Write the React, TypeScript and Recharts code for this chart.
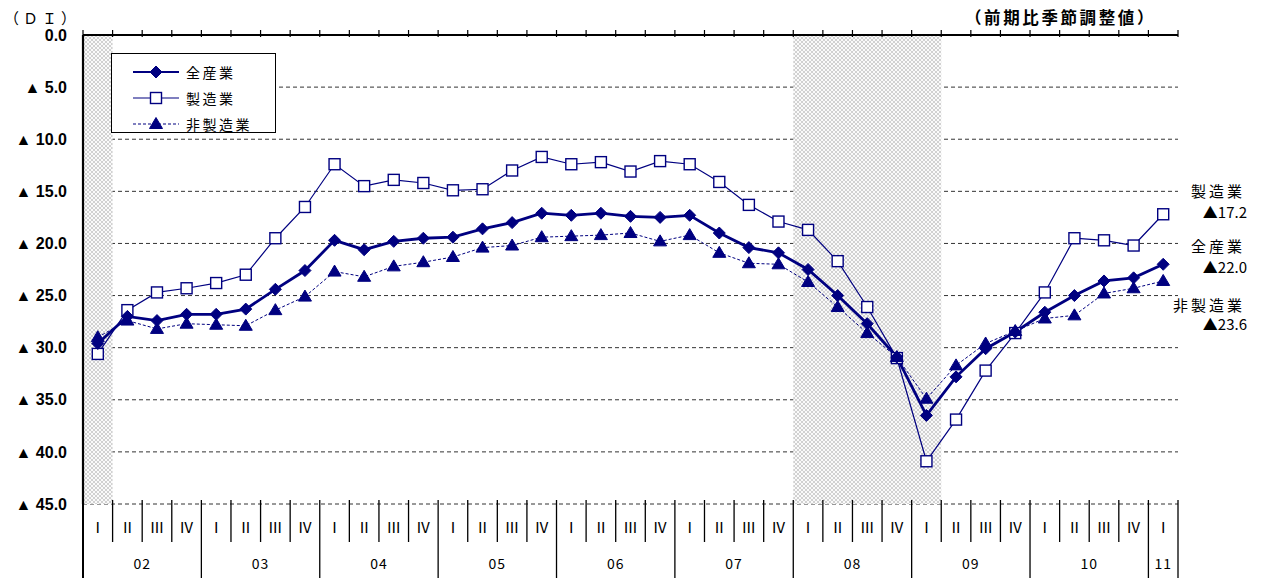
import { CartesianGrid, Legend, Line, LineChart, ReferenceArea, XAxis, YAxis } from "recharts";

// 年・四半期
const YEARS = ["02", "03", "04", "05", "06", "07", "08", "09", "10", "11"];
const QUARTERS = ["Ⅰ", "Ⅱ", "Ⅲ", "Ⅳ"];
const LAST_YEAR_QUARTERS = 1;

// DI（▲ = マイナス、値は絶対値）
const ALL = [29.6, 27.0, 27.4, 26.8, 26.8, 26.3, 24.4, 22.6, 19.7, 20.6, 19.8, 19.5, 19.4, 18.6, 18.0, 17.1, 17.3, 17.1, 17.4, 17.5, 17.3, 19.0, 20.4, 20.9, 22.5, 25.0, 27.7, 30.9, 36.5, 32.8, 30.1, 28.5, 26.6, 25.0, 23.6, 23.3, 22.0];
const MFG = [30.6, 26.4, 24.7, 24.3, 23.8, 23.0, 19.5, 16.5, 12.4, 14.5, 13.9, 14.2, 14.9, 14.8, 13.0, 11.7, 12.4, 12.2, 13.1, 12.1, 12.4, 14.1, 16.3, 17.9, 18.7, 21.7, 26.1, 31.0, 40.9, 36.9, 32.2, 28.6, 24.7, 19.5, 19.7, 20.2, 17.2];
const NON = [29.0, 27.4, 28.2, 27.7, 27.8, 27.9, 26.4, 25.1, 22.7, 23.2, 22.2, 21.8, 21.3, 20.4, 20.2, 19.4, 19.3, 19.2, 19.0, 19.8, 19.2, 20.9, 21.9, 22.0, 23.7, 26.1, 28.6, 30.9, 34.9, 31.7, 29.6, 28.4, 27.2, 26.9, 24.8, 24.3, 23.6];

const Y_TICKS = [0, 5, 10, 15, 20, 25, 30, 35, 40, 45];
const SHADED = [
  ["02-Ⅰ", "02-Ⅰ"],
  ["08-Ⅰ", "09-Ⅰ"],
];

const SERIES = [
  { key: "all", name: "全産業" },
  { key: "mfg", name: "製造業" },
  { key: "non", name: "非製造業" },
];

const categories = YEARS.flatMap((year, i) =>
  QUARTERS.slice(0, i === YEARS.length - 1 ? LAST_YEAR_QUARTERS : 4).map((q) => ({ year, q }))
);
const data = categories.map((c, i) => ({
  key: `${c.year}-${c.q}`,
  year: c.year,
  q: c.q,
  all: ALL[i],
  mfg: MFG[i],
  non: NON[i],
}));

const W = 1263;
const H = 578;
const PLOT_LEFT = 83;
const PLOT_RIGHT = 1178;
const HALF = (PLOT_RIGHT - PLOT_LEFT) / data.length / 2;
const NAVY = "#000080";
const JP = "'Noto Sans CJK JP', 'Noto Sans', sans-serif";

const fmt = (v: number) => (v === 0 ? "0.0" : `▲ ${v.toFixed(1)}`);

function QuarterTick(props: any) {
  const { x, y } = props;
  const index = props.payload?.index ?? props.index;
  const d = data[index];
  if (!d) return null;
  const left = x - HALF;
  const first = d.q === QUARTERS[0];
  const last = index === data.length - 1;
  const yearLen = data.filter((r) => r.year === d.year).length;
  return (
    <g>
      <line x1={left} x2={left} y1={y - 4} y2={first ? y + 74 : y + 38} stroke="#000" strokeWidth={index === 0 ? 2 : 1.3} />
      {last && <line x1={x + HALF} x2={x + HALF} y1={y - 4} y2={y + 74} stroke="#000" strokeWidth={1.3} />}
      <text x={x} y={y + 22} textAnchor="middle" dominantBaseline="central" fontFamily="'Noto Sans CJK JP', 'DejaVu Serif', serif" fontSize={15} fill="#000">
        {d.q}
      </text>
      {first && (
        <text x={left + yearLen * HALF} y={y + 59} textAnchor="middle" dominantBaseline="central" fontFamily={JP} fontSize={14} letterSpacing={1} fill="#000">
          {d.year}
        </text>
      )}
    </g>
  );
}

function TopTick(props: any) {
  const { x, y } = props;
  const index = props.payload?.index ?? props.index;
  const left = x - HALF;
  return (
    <g>
      <line x1={left} x2={left} y1={y - 5} y2={y + 2} stroke="#000" strokeWidth={1.2} />
      {index === data.length - 1 && <line x1={x + HALF} x2={x + HALF} y1={y - 5} y2={y + 2} stroke="#000" strokeWidth={1.2} />}
    </g>
  );
}

function Marker({ kind, cx, cy }: { kind: string; cx: number; cy: number }) {
  if (kind === "all") {
    return <polygon points={`${cx},${cy - 6} ${cx + 6},${cy} ${cx},${cy + 6} ${cx - 6},${cy}`} fill={NAVY} stroke={NAVY} />;
  }
  if (kind === "mfg") {
    return <rect x={cx - 5.5} y={cy - 5.5} width={11} height={11} fill="#fff" stroke={NAVY} strokeWidth={1.4} />;
  }
  return <polygon points={`${cx},${cy - 6.5} ${cx + 6.5},${cy + 4.5} ${cx - 6.5},${cy + 4.5}`} fill={NAVY} stroke={NAVY} />;
}

const dot = (kind: string) => (p: any) =>
  p.cx == null ? <g key={p.key ?? p.index} /> : (
    <g key={`${kind}-${p.index}`}>
      <Marker kind={kind} cx={p.cx} cy={p.cy} />
    </g>
  );

const END_OFFSETS: Record<string, [number, number]> = {
  mfg: [-24, -3],
  all: [-19, 2],
  non: [24, 43],
};

const endLabel = (kind: string) => (p: any) => {
  if (p.index !== data.length - 1) return null;
  const s = SERIES.find((r) => r.key === kind)!;
  const [a, b] = END_OFFSETS[kind];
  const tx = PLOT_RIGHT + 67;
  return (
    <g key={`end-${kind}`}>
      <text x={tx} y={p.y + a} textAnchor="end" dominantBaseline="central" fontFamily={JP} fontSize={15} letterSpacing={3} fill="#000">
        {s.name}
      </text>
      <text x={tx + 2} y={p.y + b} textAnchor="end" dominantBaseline="central" fontFamily={JP} fontSize={15} fill="#000">
        {`▲${Number(p.value).toFixed(1)}`}
      </text>
    </g>
  );
};

function LegendBox(props: any) {
  const items = SERIES.map((s) => (props.payload || []).find((p: any) => p.dataKey === s.key) || { value: s.name, dataKey: s.key });
  return (
    <div style={{ position: "relative", width: 165, height: 80, boxSizing: "border-box", border: "1px solid #000", background: "#fff" }}>
      {items.map((it: any, i: number) => (
        <div key={it.dataKey} style={{ position: "absolute", left: 21, top: 8 + i * 26, height: 20, display: "flex", alignItems: "center" }}>
          <svg width={48} height={16}>
            <line x1={0} x2={46} y1={8} y2={8} stroke={NAVY} strokeWidth={it.dataKey === "all" ? 2.2 : 1.2} strokeDasharray={it.dataKey === "non" ? "3 2" : undefined} />
            <Marker kind={it.dataKey} cx={23} cy={8} />
          </svg>
          <span style={{ marginLeft: 5, fontFamily: JP, fontSize: 14, letterSpacing: 2.5, color: "#000" }}>{it.value}</span>
        </div>
      ))}
    </div>
  );
}

export default function App() {
  return (
    <div style={{ position: "absolute", left: 0, top: 0, width: W, height: H, background: "#fff" }}>
      <LineChart width={W} height={H} data={data} margin={{ top: 25, right: W - PLOT_RIGHT, bottom: 0, left: 0 }}>
        <defs>
          <pattern id="hatch" width={4} height={4} patternUnits="userSpaceOnUse">
            <rect width={4} height={4} fill="#fafafa" />
            <path d="M0,0 L4,4 M4,0 L0,4" stroke="#c6c6c6" strokeWidth={0.8} />
          </pattern>
        </defs>
        <CartesianGrid vertical={false} stroke="#333" strokeDasharray="4 3" />
        {SHADED.map(([a, b]) => (
          <ReferenceArea key={a} x1={a} x2={b} fill="url(#hatch)" fillOpacity={1} stroke="none" ifOverflow="visible" />
        ))}
        <XAxis
          dataKey="key"
          scale="band"
          interval={0}
          height={74}
          tickSize={0}
          tickMargin={0}
          axisLine={false}
          tickLine={false}
          tick={(p: any) => <QuarterTick {...p} />}
        />
        <XAxis
          xAxisId="top"
          dataKey="key"
          orientation="top"
          scale="band"
          interval={0}
          height={10}
          tickSize={0}
          tickMargin={0}
          axisLine={{ stroke: "#000", strokeWidth: 2.2 }}
          tickLine={false}
          tick={(p: any) => <TopTick {...p} />}
        />
        <YAxis
          reversed
          domain={[0, 45]}
          ticks={Y_TICKS}
          interval={0}
          width={PLOT_LEFT}
          tickSize={0}
          tickMargin={16}
          tickLine={false}
          axisLine={{ stroke: "#000", strokeWidth: 2.2 }}
          tickFormatter={fmt}
          tick={{ fontFamily: "'Liberation Sans', Arial, sans-serif", fontSize: 16, fontWeight: "bold", fill: "#000" }}
        />
        <Legend
          layout="vertical"
          align="center"
          verticalAlign="middle"
          wrapperStyle={{ position: "absolute", left: 111, top: 53, width: 165, height: 80 }}
          content={(p: any) => <LegendBox {...p} />}
        />
        <Line dataKey="mfg" name="製造業" stroke={NAVY} strokeWidth={1.2} dot={dot("mfg")} activeDot={false} label={endLabel("mfg")} isAnimationActive={false} />
        <Line dataKey="non" name="非製造業" stroke={NAVY} strokeWidth={1} strokeDasharray="3 2" dot={dot("non")} activeDot={false} label={endLabel("non")} isAnimationActive={false} />
        <Line dataKey="all" name="全産業" stroke={NAVY} strokeWidth={2.8} dot={dot("all")} activeDot={false} label={endLabel("all")} isAnimationActive={false} />
        <text x={80} y={17} textAnchor="end" dominantBaseline="central" fontFamily={JP} fontSize={15} letterSpacing={4} fill="#000">
          （ＤＩ）
        </text>
        <text x={1156} y={17} textAnchor="end" dominantBaseline="central" fontFamily={JP} fontSize={16.5} fontWeight="bold" letterSpacing={2.6} fill="#000">
          （前期比季節調整値）
        </text>
      </LineChart>
    </div>
  );
}
